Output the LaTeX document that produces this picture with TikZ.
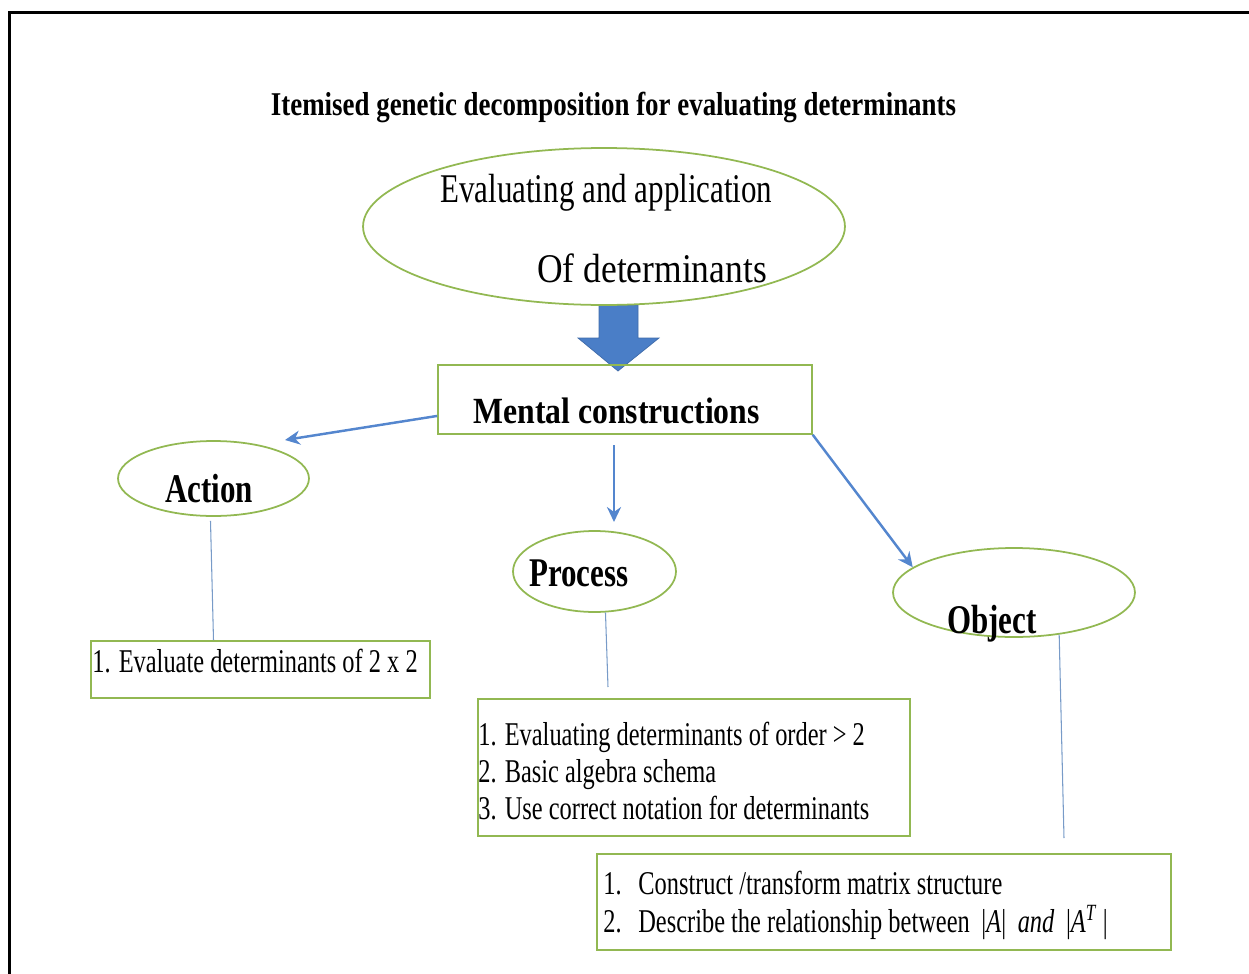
\documentclass[tikz,border=0pt]{standalone}
\usepackage{fontspec}
\setmainfont[FakeStretch=0.76]{Liberation Serif}
\newfontfamily\titlefont[FakeStretch=0.81]{Liberation Serif}
\newfontfamily\mcfont[FakeStretch=0.86]{Liberation Serif}
\newfontfamily\widefont[FakeStretch=0.87]{Liberation Serif}
\newfontfamily\itemfont[FakeStretch=0.735]{Liberation Serif}
\usetikzlibrary{shapes.geometric,arrows.meta}
\definecolor{boxgreen}{RGB}{146,184,82}
\definecolor{arrowblue}{RGB}{84,134,206}
\definecolor{bigblue}{RGB}{74,126,199}
\definecolor{stemline}{RGB}{120,155,200}
\tikzset{
  oval/.style={ellipse, draw=boxgreen, line width=1pt, inner sep=0pt},
  card/.style={rectangle, draw=boxgreen, line width=0.9pt, inner sep=0pt},
  txt/.style={inner sep=0pt, anchor=base west, font=\itemfont\fontsize{18.9}{22}\selectfont},
  big/.style={inner sep=0pt, anchor=base west, font=\fontsize{23.2}{27}\selectfont},
  bigb/.style={inner sep=0pt, anchor=base west, font=\fontsize{23.2}{27}\selectfont\bfseries},
  flow/.style={draw=arrowblue, line width=1.4pt, -{Stealth[length=8.5pt,width=8pt]}},
  stem/.style={draw=stemline, line width=0.6pt}
}
\begin{document}
\begin{tikzpicture}[x=0.02cm, y=-0.02cm]
\useasboundingbox (0,0) rectangle (1249,974);
% page frame
\draw[line width=1.2pt] (9.5,974) -- (9.5,12.5) -- (1249,12.5);

% title
\node[inner sep=0pt, anchor=base, font=\titlefont\fontsize{18.9}{22}\selectfont\bfseries] (title) at (613.5,115) {Itemised genetic decomposition for evaluating determinants};

% top ellipse and the big arrow below it
\fill[bigblue, draw=bigblue!85!black, line width=0.4pt] (599,305) -- (638,305) -- (638,338) -- (659,338) -- (618,371) -- (578,338) -- (599,338) -- cycle;
\node[oval, minimum width=9.64cm, minimum height=3.14cm] (goal) at (604,226.5) {};
\node[big] (goal1) at (440,202) {Evaluating and application};
\node[big, font=\widefont\fontsize{23.2}{27}\selectfont] (goal2) at (537,282) {Of determinants};

% mental constructions
\node[card, minimum width=7.48cm, minimum height=1.38cm] (mc) at (625,399.5) {};
\node[inner sep=0pt, anchor=base west, font=\mcfont\fontsize{21}{25}\selectfont\bfseries] (mct) at (473,423) {Mental constructions};

% the three stages
\node[oval, minimum width=3.82cm, minimum height=1.5cm] (act) at (213.5,478.5) {};
\node[bigb] (actt) at (165,502) {Action};
\node[oval, minimum width=3.26cm, minimum height=1.62cm] (proc) at (594.5,571.5) {};
\node[bigb] (proct) at (529,586) {Process};
\node[oval, minimum width=4.84cm, minimum height=1.78cm] (obj) at (1014,592.5) {};
\node[bigb] (objt) at (947,633) {Object};

% arrows from the mental constructions
\coordinate (actTip) at (285,440);
\coordinate (procTip) at (614,522);
\draw[flow] (mc.185) -- (actTip);
\draw[flow, shorten <=6pt] (mc.south -| procTip) -- (procTip);
\draw[flow] (mc.south east) -- (obj.166);

% item boxes
\node[card, minimum width=6.78cm, minimum height=1.14cm] (abox) at (260.5,669.5) {};
\node[txt] (a1) at (92,672) {1. Evaluate determinants of 2 x 2};

\node[card, minimum width=8.64cm, minimum height=2.74cm] (pbox) at (694,767.5) {};
\node[txt] (p1) at (478,745) {1. Evaluating determinants of order > 2};
\node[txt] (p2) at (478,782) {2. Basic algebra schema};
\node[txt] (p3) at (478,819) {3. Use correct notation for determinants};

\node[card, minimum width=11.48cm, minimum height=1.92cm] (obox) at (884,902) {};
\node[txt] (o1n) at (603,894) {1.};
\node[txt] (o1) at (638,894) {Construct /transform matrix structure};
\node[txt] (o2n) at (603,932) {2.};
\node[txt] (o2) at (638,932) {Describe the relationship between \,|\textit{A}|\, \textit{and}\, |\textit{A}\textsuperscript{\textit{T}}\,|};

% stems from the stages to their item boxes
\coordinate (procEnd) at (608,687);
\coordinate (objEnd) at (1064,838);
\draw[stem] (act.south) ++(-3,4) -- (act.south |- abox.north);
\draw[stem] (proc.-75) -- (procEnd);
\draw[stem] (obj.-43) -- (objEnd);
\end{tikzpicture}
\end{document}
